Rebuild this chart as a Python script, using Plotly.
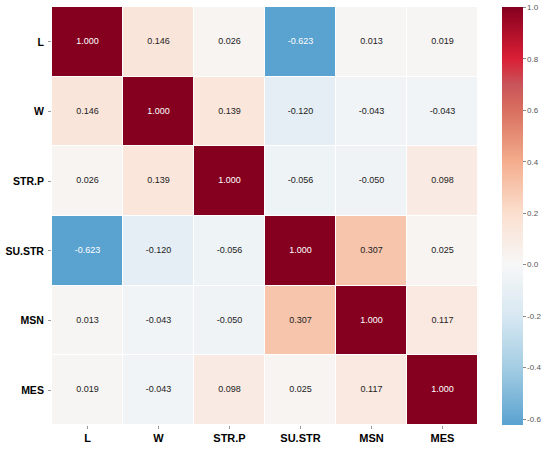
import plotly.graph_objects as go

labels = ["L", "W", "STR.P", "SU.STR", "MSN", "MES"]

corr = [
    [1.000, 0.146, 0.026, -0.623, 0.013, 0.019],
    [0.146, 1.000, 0.139, -0.120, -0.043, -0.043],
    [0.026, 0.139, 1.000, -0.056, -0.050, 0.098],
    [-0.623, -0.120, -0.056, 1.000, 0.307, 0.025],
    [0.013, -0.043, -0.050, 0.307, 1.000, 0.117],
    [0.019, -0.043, 0.098, 0.025, 0.117, 1.000],
]

zmin, zmax = -0.623, 1.001

# seaborn-ish RdBu_r centred on 0, cut at the data range
stops = [
    (-0.623, "#5aa2d0"),
    (-0.4, "#a4cde3"),
    (-0.2, "#d7e8f2"),
    (0.0, "#f7f7f7"),
    (0.2, "#fbdfcf"),
    (0.4, "#f4ad8d"),
    (0.6, "#d86f5f"),
    (0.7, "#c9545a"),
    (0.8, "#da1f35"),
    (1.001, "#85001f"),
]
colorscale = [[(v - zmin) / (zmax - zmin), c] for v, c in stops]

# text overlay, white on the dark cells
tx, ty, tt, tc = [], [], [], []
for i, row in enumerate(corr):
    for j, v in enumerate(row):
        tx.append(labels[j])
        ty.append(labels[i])
        tt.append("%.3f" % v)
        tc.append("white" if abs(v) > 0.5 else "#222222")

fig = go.Figure()
fig.add_trace(go.Heatmap(
    z=corr, x=labels, y=labels,
    zmin=zmin, zmax=zmax,
    colorscale=colorscale,
    xgap=1, ygap=1,
    hoverinfo="skip",
    colorbar=dict(
        x=1.056, xanchor="left", xpad=0, ypad=0,
        thickness=21, len=1.0, lenmode="fraction",
        y=0.5, yanchor="middle",
        tickvals=[-0.6, -0.4, -0.2, 0.0, 0.2, 0.4, 0.6, 0.8, 1.0],
        ticktext=["-0.6", "-0.4", "-0.2", "0.0", "0.2", "0.4", "0.6", "0.8", "1.0"],
        ticks="outside", ticklen=3, tickcolor="#888888",
        tickfont=dict(family="Liberation Sans", size=8, color="#555555"),
        outlinewidth=0,
    ),
))
fig.add_trace(go.Scatter(
    x=tx, y=ty, text=tt, mode="text",
    textfont=dict(family="Liberation Sans", size=9, color=tc),
    hoverinfo="skip", showlegend=False,
))

fig.update_layout(
    width=550, height=453,
    margin=dict(l=52, r=72, t=7, b=28, autoexpand=False),
    plot_bgcolor="white", paper_bgcolor="white",
    showlegend=False,
)
fig.update_xaxes(
    automargin=False, range=[-0.5, 5.5],
    showgrid=False, zeroline=False, showline=False,
    ticks="outside", ticklen=3, tickcolor="#999999",
    tickfont=dict(family="Liberation Sans", size=11, color="black", weight="bold"),
)
fig.update_yaxes(
    automargin=False, range=[5.5, -0.5],
    showgrid=False, zeroline=False, showline=False,
    ticks="outside", ticklen=3, tickcolor="#999999",
    tickfont=dict(family="Liberation Sans", size=10.5, color="black", weight="bold"),
    ticklabelstandoff=2,
)

# page body has an 8px default margin; drop it so the figure sits at 0,0
fig.write_html("out.html", config={"displayModeBar": False},
               post_script="document.body.style.margin='0';")
